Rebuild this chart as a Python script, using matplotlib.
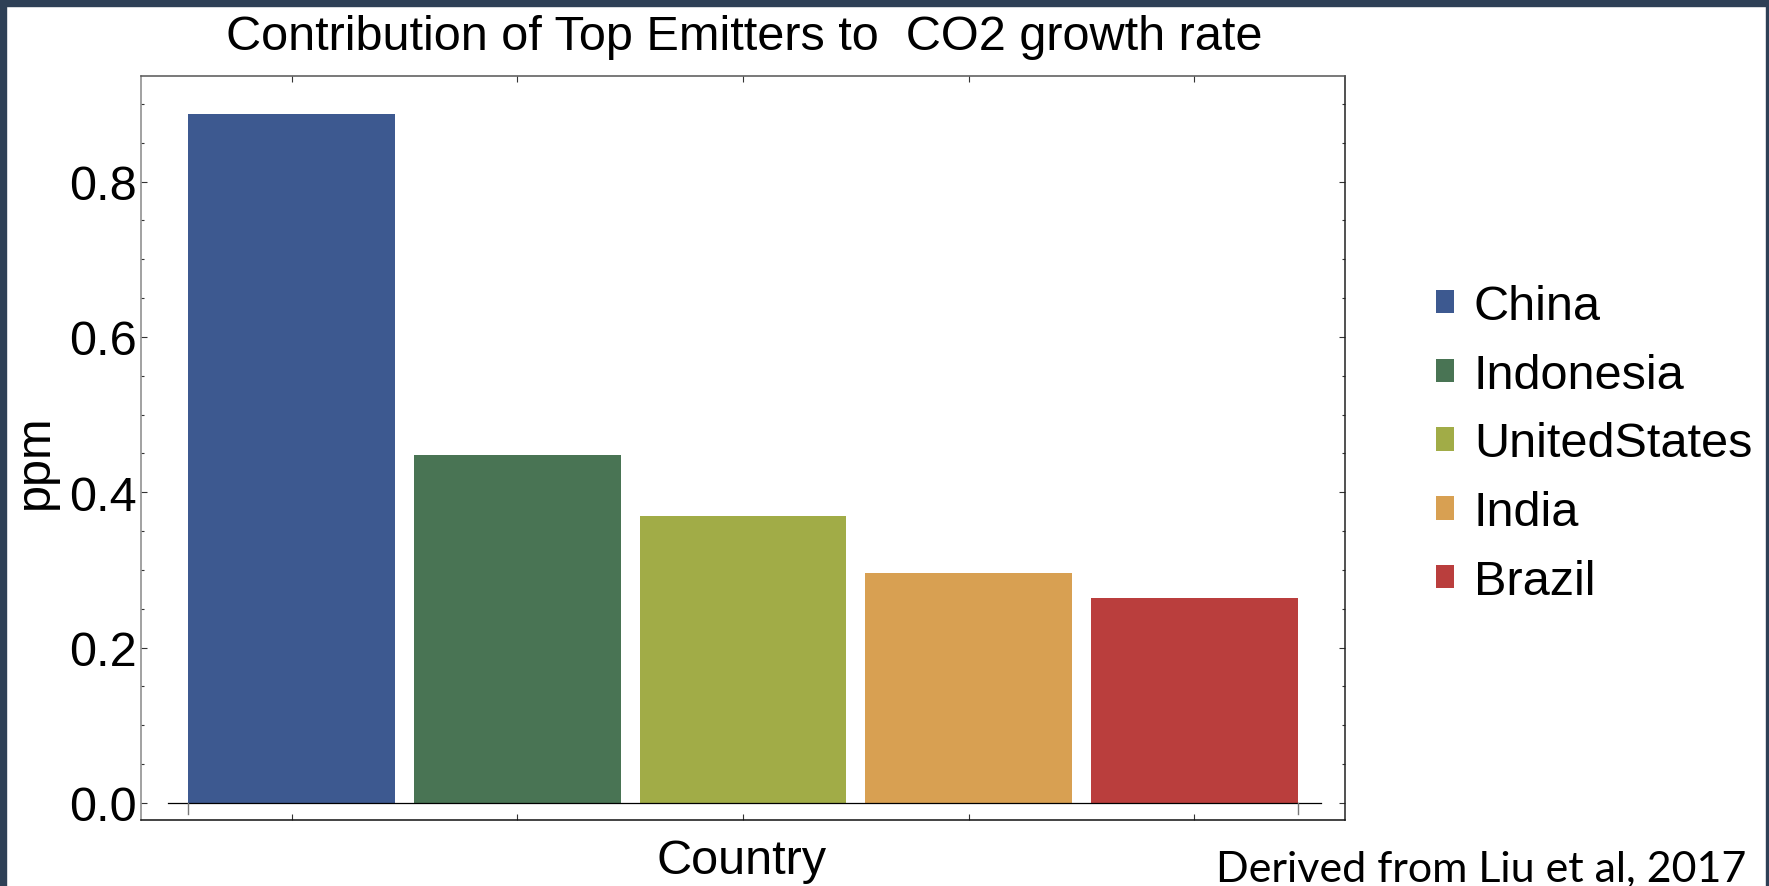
import matplotlib
matplotlib.use("Agg")
import matplotlib.pyplot as plt
from matplotlib.patches import Patch, Rectangle
import numpy as np

# data
countries = ["China", "Indonesia", "UnitedStates", "India", "Brazil"]
ppm = [0.887, 0.448, 0.370, 0.296, 0.264]
colors = ["#3D5990", "#497454", "#A1AC47", "#D8A052", "#BA3E3D"]
yticks = [0.0, 0.2, 0.4, 0.6, 0.8]
ytick_labels = ["0.0", "0.2", "0.4", "0.6", "0.8"]

plt.rcParams['font.family'] = ['Liberation Sans', 'DejaVu Sans']

W, H = 1769, 887
fig = plt.figure(figsize=(W / 100, H / 100), dpi=100)
fig.patch.set_facecolor("white")

# dark slide border (top, left, right)
border = "#2E4056"
fig.patches.append(Rectangle((0, 1 - 7 / H), 1, 7 / H, transform=fig.transFigure, color=border, zorder=10))
fig.patches.append(Rectangle((0, 0), 6 / W, 1, transform=fig.transFigure, color=border, zorder=10))
fig.patches.append(Rectangle((1 - 3 / W, 0), 3 / W, 1, transform=fig.transFigure, color=border, zorder=10))

ax = fig.add_axes([141 / W, 1 - 821 / H, (1345 - 141) / W, (821 - 77) / H])

x = np.arange(len(countries))
ax.bar(x, ppm, width=0.915, color=colors, edgecolor="none", zorder=2)

ax.set_xlim(-0.6675, 4.6675)
ax.set_ylim(-0.0219, 0.936)

# inner axis line at zero with end ticks, Mathematica-style
ax.plot([-0.55, 4.56], [0, 0], color="black", lw=0.9, zorder=3)
ax.plot([-0.4575, -0.4575], [0, -0.014], color="#777777", lw=1.0, zorder=3)
ax.plot([4.4575, 4.4575], [0, -0.014], color="#777777", lw=1.0, zorder=3)

ax.set_yticks(yticks)
ax.set_yticklabels(ytick_labels)
ax.set_yticks(np.arange(0, 0.93, 0.05), minor=True)
ax.set_xticks(x)
ax.set_xticklabels([])
ax.tick_params(axis="y", which="major", direction="in", length=4.5, width=0.8,
               labelsize=35, pad=3, right=True, color="#333333")
ax.tick_params(axis="y", which="minor", direction="in", length=2.5, width=0.8,
               right=True, color="#333333")
ax.tick_params(axis="x", which="major", direction="in", length=4.5, width=0.8,
               top=True, color="#333333")

ax.spines["left"].set_color("#888888")
ax.spines["top"].set_color("#555555")
ax.spines["right"].set_color("#222222")
ax.spines["bottom"].set_color("#111111")
for s in ax.spines.values():
    s.set_linewidth(1.1)

fig.text(744 / W, 1 - 37 / H, "Contribution of Top Emitters to  CO2 growth rate",
         ha="center", va="center", fontsize=35)
fig.text(35 / W, 1 - 462 / H, "ppm", ha="center", va="center", rotation=90, fontsize=35)
fig.text(742 / W, 1 - 862 / H, "Country", ha="center", va="center", fontsize=35)
fig.text(1746 / W, 1 - 881 / H, "Derived from Liu et al, 2017", ha="right", va="baseline",
         fontsize=31, family=["Lato", "DejaVu Sans"])

handles = [Patch(facecolor=c, edgecolor="none") for c in colors]
fig.legend(handles, countries, loc="center left", bbox_to_anchor=(1436 / W, 1 - 445 / H),
           frameon=False, fontsize=35, handlelength=0.36, handleheight=0.36,
           handletextpad=0.42, labelspacing=0.49, borderpad=0, borderaxespad=0)

fig.savefig("out.png", dpi=100, facecolor="white")
